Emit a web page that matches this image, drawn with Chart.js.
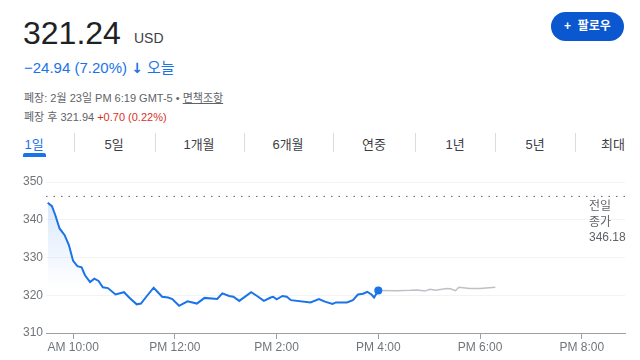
<!DOCTYPE html>
<html>
<head>
<meta charset="utf-8">
<script src="https://cdn.jsdelivr.net/npm/chart.js"></script>
<style>
  body { margin: 0; width: 640px; height: 360px; overflow: hidden; background: #fff;
         font-family: Arial, "Liberation Sans", "Noto Sans CJK KR", sans-serif; color: #202124; }
  .abs { position: absolute; white-space: nowrap; }
  #price { left: 23px; top: 14px; font-size: 32px; line-height: 38px; }
  #cur { left: 134px; top: 30px; font-size: 14px; color: #3c4043; }
  #chg { left: 24px; top: 56px; font-size: 15px; color: #1a73e8; }
  #chg b { font-family: "DejaVu Sans", sans-serif; font-size: 14px; }
  #closed { left: 24px; top: 89px; font-size: 11px; color: #5f6368; }
  #closed u { text-decoration: underline; }
  #after { left: 24px; top: 108px; font-size: 11px; color: #5f6368; }
  #after span { color: #d93025; }
  #follow { left: 551px; top: 12px; width: 73px; height: 29px; border-radius: 15px; background: #0b57d0;
            color: #fff; font-size: 12px; font-weight: bold; line-height: 29px; text-align: center; }
  .tab { top: 134px; font-size: 13px; color: #3c4043; transform: translateX(-50%); }
  .sep { top: 133px; width: 1px; height: 19px; background: #dadce0; }
  #uline { left: 23px; top: 153px; width: 23px; height: 4px; border-radius: 2px 2px 0 0; background: #1a73e8; }
  #prevlbl { left: 589px; top: 199px; font-size: 12px; line-height: 15.5px; color: #5f6368; }
  #box { position: absolute; left: 0; top: 165px; width: 640px; height: 195px; }
</style>
</head>
<body>
<div class="abs" id="price">321.24</div>
<div class="abs" id="cur">USD</div>
<div class="abs" id="chg">−24.94 (7.20%) <b>↓</b> 오늘</div>
<div class="abs" id="closed">폐장: 2월 23일 PM 6:19 GMT-5 • <u>면책조항</u></div>
<div class="abs" id="after">폐장 후 321.94 <span>+0.70 (0.22%)</span></div>
<div class="abs" id="follow">+&nbsp; 팔로우</div>
<div id="tabs"></div>
<div class="abs" id="uline"></div>
<div id="box"><canvas id="stockChart"></canvas></div>
<div class="abs" id="prevlbl">전일<br>종가<br>346.18</div>
<script>
// regular session
var sessionTimes = ['9:30','9:35','9:39','9:44','9:50','9:55','10:00','10:05','10:10','10:14','10:20','10:25',
  '10:30','10:35','10:41','10:50','11:00','11:07','11:15','11:20','11:27','11:35','11:45','11:52','11:57',
  '12:05','12:15','12:26','12:35','12:50','12:56','13:04','13:09','13:16','13:30','13:37','13:45','13:53',
  '13:56','14:00','14:07','14:12','14:17','14:40','14:50','14:57','15:06','15:10','15:23','15:30','15:36',
  '15:42','15:47','15:52','15:55','16:00'];
var sessionPrices = [344.5,343.6,341.2,337.7,335.9,333.3,329.1,327.7,327.4,325.3,323.5,324.4,
  323.8,322.1,321.9,320.2,320.8,319.2,317.6,317.8,319.8,322.0,319.6,319.4,319.0,
  317.2,318.4,317.8,319.3,319.0,320.5,319.8,319.6,318.5,320.8,319.8,318.5,319.4,
  319.6,318.9,319.8,319.6,318.7,318.1,319.0,318.3,317.7,318.1,318.1,318.7,320.2,
  320.4,320.9,320.2,319.4,321.24];
// after hours
var afterTimes = ['16:00','16:22','16:38','16:46','16:55','17:01','17:07','17:21','17:25','17:31','17:35','17:48','18:00','18:18'];
var afterPrices = [321.24,321.2,321.3,321.4,321.1,321.6,321.3,321.8,321.7,321.2,322.1,321.8,321.8,322.1];
var prevClose = 346.18;
var tickHours = [10, 12, 14, 16, 18, 20];
var tickLabels = ['AM 10:00', 'PM 12:00', 'PM 2:00', 'PM 4:00', 'PM 6:00', 'PM 8:00'];
var tabNames = ['1일', '5일', '1개월', '6개월', '연중', '1년', '5년', '최대'];
var tabX = [34, 114, 199, 288, 374, 455, 535, 613];
var sepX = [74, 155, 244, 333, 415, 495, 575];

var tabs = document.getElementById('tabs');
tabNames.forEach(function (name, i) {
  var d = document.createElement('div');
  d.className = 'abs tab';
  d.style.left = tabX[i] + 'px';
  if (i === 0) d.style.color = '#1a73e8';
  d.textContent = name;
  tabs.appendChild(d);
});
sepX.forEach(function (x) {
  var s = document.createElement('div');
  s.className = 'abs sep';
  s.style.left = x + 'px';
  tabs.appendChild(s);
});

function toMin(t) {
  var p = t.split(':');
  return parseInt(p[0]) * 60 + parseInt(p[1]);
}
var xMin = 568, xMax = 1251;
var mainData = sessionTimes.map(function (t, i) { return { x: toMin(t), y: sessionPrices[i] }; });
var afterData = afterTimes.map(function (t, i) { return { x: toMin(t), y: afterPrices[i] }; });

Chart.defaults.font.family = 'Arial, "Liberation Sans", sans-serif';
Chart.defaults.font.size = 12;
Chart.defaults.color = '#70757a';

var ctx = document.getElementById('stockChart').getContext('2d');
var myChart = new Chart(ctx, {
  type: 'line',
  data: {
    datasets: [{
      data: mainData,
      borderColor: '#1a73e8',
      borderWidth: 2,
      tension: 0,
      fill: 'start',
      backgroundColor: function (c) {
        var area = c.chart.chartArea;
        if (!area) return 'rgba(26,115,232,0.1)';
        var y0 = c.chart.scales.y.getPixelForValue(322);
        var g = c.chart.ctx.createLinearGradient(0, area.top, 0, y0);
        g.addColorStop(0, 'rgba(26,115,232,0.2)');
        g.addColorStop(1, 'rgba(26,115,232,0)');
        return g;
      },
      pointRadius: function (c) { return c.dataIndex === mainData.length - 1 ? 4 : 0; },
      pointBackgroundColor: '#1a73e8',
      pointBorderWidth: 0,
      order: 1
    }, {
      data: afterData,
      borderColor: '#bdc1c6',
      borderWidth: 1.5,
      tension: 0,
      pointRadius: 0,
      fill: false,
      order: 2
    }, {
      data: [{ x: xMin, y: prevClose }, { x: xMax, y: prevClose }],
      borderColor: '#5f6368',
      borderWidth: 1,
      borderDash: [1.5, 6],
      pointRadius: 0,
      fill: false,
      order: 3
    }]
  },
  options: {
    animation: false,
    responsive: true,
    maintainAspectRatio: false,
    layout: { padding: { top: 17, right: 15, left: 0, bottom: 0 } },
    plugins: { legend: { display: false }, tooltip: { enabled: false } },
    scales: {
      x: {
        type: 'linear',
        min: xMin,
        max: xMax,
        afterBuildTicks: function (axis) {
          axis.ticks = tickHours.map(function (h) { return { value: h * 60 }; });
        },
        afterFit: function (axis) { axis.height = 27; },
        ticks: {
          autoSkip: false,
          maxRotation: 0,
          padding: 1,
          color: '#70757a',
          callback: function (v, i) { return tickLabels[i]; }
        },
        grid: { drawOnChartArea: false, drawTicks: true, tickLength: 6, color: '#9aa0a6' },
        border: { color: '#9aa0a6', width: 1 }
      },
      y: {
        min: 310,
        max: 350,
        afterFit: function (axis) { axis.width = 46; },
        ticks: { stepSize: 10, padding: 3, color: '#70757a' },
        grid: { color: '#f1f3f4', drawTicks: false },
        border: { display: false }
      }
    }
  }
});
</script>
</body>
</html>
